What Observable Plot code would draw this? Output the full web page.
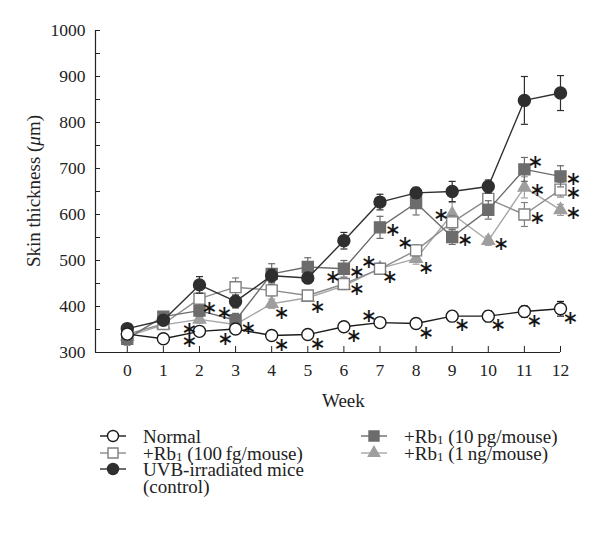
<!DOCTYPE html>
<html><head><meta charset="utf-8">
<script src="https://cdn.jsdelivr.net/npm/d3@7"></script>
<script src="https://cdn.jsdelivr.net/npm/@observablehq/plot@0.6"></script>
<style>
html,body{margin:0;padding:0;background:#fff;}
body{width:600px;height:537px;overflow:hidden;}
svg{display:block;}
</style></head>
<body>
<div id="chart"></div>
<div id="legend"></div>
<script>
// ---- data ----
const weeks = [0,1,2,3,4,5,6,7,8,9,10,11,12];
const normal    = [340,330,346,351,337,339,356,365,363,379,379,389,395];
const normalErr = [8,10,8,8,6,8,8,8,10,10,12,12,16];
const fg100     = [340,362,417,442,435,424,449,482,522,583,634,600,654];
const fg100Err  = [10,10,10,20,12,10,12,12,12,15,15,26,16];
const uvb       = [352,370,447,411,467,462,543,627,647,650,661,848,864];
const uvbErr    = [8,10,18,14,14,12,18,17,12,22,14,52,38];
const pg10      = [330,378,391,370,471,486,482,572,625,551,610,698,683];
const pg10Err   = [14,10,12,15,22,20,18,24,26,16,20,26,23];
const ng1       = [335,360,372,361,406,419,445,483,504,601,543,659,610];
const ng1Err    = [8,8,8,8,10,8,8,10,12,25,10,23,12];
const seriesKeys = ["ng1","fg100","pg10","uvb","normal"];
const yTicks = [300,400,500,600,700,800,900,1000];
const yMinor = [300,350,400,450,500,550,600,650,700,750,800,850,900,950,1000];
// significance asterisks: [series, week, label side]
const stars = [
  ["normal",2,"lb"],["normal",3,"lb"],["normal",4,"rb"],["normal",5,"rb"],["normal",6,"rb"],
  ["normal",7,"l"],["normal",8,"rb"],["normal",9,"rb"],["normal",10,"rb"],["normal",11,"rb"],["normal",12,"rb"],
  ["ng1",2,"lb"],["ng1",3,"r"],["ng1",4,"rb"],["ng1",5,"rb"],["ng1",6,"r"],["ng1",7,"rb"],["ng1",8,"rb"],
  ["ng1",10,"r"],["ng1",11,"r"],["ng1",12,"r"],
  ["fg100",2,"rb"],["fg100",6,"l"],["fg100",7,"l"],["fg100",8,"l"],["fg100",9,"l"],["fg100",11,"r"],["fg100",12,"r"],
  ["pg10",3,"l"],["pg10",6,"r"],["pg10",7,"r"],["pg10",9,"r"],["pg10",11,"ru"],["pg10",12,"r"]
];
// legend labels: [series, main text, subscript, rest]
const legendLabels = [
  ["normal","Normal","",""],
  ["fg100","+Rb","1"," (100\u2009fg/mouse)"],
  ["uvb","UVB-irradiated mice","",""],
  ["pg10","+Rb","1"," (10\u2009pg/mouse)"],
  ["ng1","+Rb","1"," (1\u2009ng/mouse)"]
];
const legendExtra = "(control)";

// ---- build tables ----
const valuesBy = {normal, fg100, uvb, pg10, ng1};
const errBy = {normal: normalErr, fg100: fg100Err, uvb: uvbErr, pg10: pg10Err, ng1: ng1Err};
const table = {};
for (const k of seriesKeys) table[k] = weeks.map((w,i)=>({series:k, week:w, value:valuesBy[k][i], err:errBy[k][i]}));
const starRows = stars.map(([s,w,side])=>({series:s, week:w, side, value:valuesBy[s][weeks.indexOf(w)]}));

const style = {
  normal:{symbol:"circle",  r:6,   fill:"#fff",    stroke:"#1c1c1c", line:"#1c1c1c"},
  fg100: {symbol:"square",  r:6.2, fill:"#fff",    stroke:"#808080", line:"#8c8c8c"},
  uvb:   {symbol:"circle",  r:6,   fill:"#2f2f2f", stroke:"#2f2f2f", line:"#2f2f2f"},
  pg10:  {symbol:"square",  r:6.2, fill:"#6c6c6c", stroke:"#6c6c6c", line:"#6c6c6c"},
  ng1:   {symbol:"triangle",r:4.6, fill:"#9e9e9e", stroke:"#9e9e9e", line:"#a6a6a6"}
};
const cap = {draw(ctx){ctx.moveTo(-3.5,0);ctx.lineTo(3.5,0);}};
const offsets = {r:[13,3], rb:[10,9], l:[-11,-7], lb:[-10,10], ru:[11,-8]};
const FONT = "Liberation Serif";

const marks = [];
for (const k of seriesKeys) {
  const s = style[k], d = table[k];
  marks.push(Plot.line(d, {x:"week", y:"value", stroke:s.line, strokeWidth:1.4}));
  marks.push(Plot.ruleX(d, {x:"week", y1:r=>r.value-r.err, y2:r=>r.value+r.err, stroke:s.stroke, strokeWidth:1.2}));
  marks.push(Plot.dot(d, {x:"week", y:r=>r.value+r.err, symbol:cap, r:3, stroke:s.stroke, fill:"none", strokeWidth:1.2}));
  marks.push(Plot.dot(d, {x:"week", y:r=>r.value-r.err, symbol:cap, r:3, stroke:s.stroke, fill:"none", strokeWidth:1.2}));
  marks.push(Plot.dot(d, {x:"week", y:"value", symbol:s.symbol, r:s.r, fill:s.fill, stroke:s.stroke, strokeWidth:1.4}));
}
for (const side of Object.keys(offsets)) {
  const [dx,dy] = offsets[side];
  marks.push(Plot.text(starRows.filter(d=>d.side===side), {x:"week", y:"value", text:()=>"∗", dx, dy,
    fontSize:19, fontFamily:"DejaVu Sans", fill:"#111", stroke:"#111", strokeWidth:0.2, lineAnchor:"middle"}));
}

const xDomain = [-0.88, 12];
const plot = Plot.plot({
  width:600, height:420,
  marginLeft:95, marginRight:40, marginTop:30, marginBottom:68,
  style:{fontFamily:FONT, background:"#fff", color:"#222"},
  x:{domain:xDomain, label:null},
  y:{domain:[300,1000], label:null},
  marks:[
    Plot.ruleY([300], {stroke:"#222", strokeWidth:1.2}),
    Plot.ruleX([xDomain[0]], {stroke:"#222", strokeWidth:1.2}),
    Plot.axisY({ticks:yTicks, tickSize:0, tickPadding:10, fontSize:17.5, tickFormat:d=>String(d), label:null, fill:"#222"}),
    Plot.axisY({ticks:yMinor, tickSize:-5, tickFormat:()=>"", label:null, stroke:"#222"}),
    Plot.axisX({ticks:weeks, tickSize:0, tickPadding:11, fontSize:17.5, tickFormat:d=>String(d), label:null, fill:"#222"}),
    Plot.axisX({ticks:weeks, tickSize:-6, tickFormat:()=>"", label:null, stroke:"#222"}),
    ...marks
  ]
});
document.getElementById("chart").appendChild(plot);

const svg = d3.select(plot);
const xs = plot.scale("x"), ys = plot.scale("y");
const yl = svg.append("text")
  .attr("transform", `translate(33,${(ys.apply(300)+ys.apply(1000))/2}) rotate(-90)`)
  .attr("text-anchor","middle").attr("dominant-baseline","central")
  .attr("font-size",19).attr("fill","#222").attr("font-family",FONT);
yl.append("tspan").text("Skin thickness (");
yl.append("tspan").attr("font-style","italic").text("μ");
yl.append("tspan").text("m)");
svg.append("text").attr("x", xs.apply(6)).attr("y", 400)
  .attr("text-anchor","middle").attr("dominant-baseline","central")
  .attr("font-size",19).attr("fill","#222").attr("font-family",FONT).text("Week");

// ---- legend (separate svg below the chart) ----
const pos = {normal:[100,16], fg100:[100,33], uvb:[100,49], pg10:[361,16], ng1:[361,33]};
const leg = d3.select("#legend").append("svg").attr("width",600).attr("height",117)
  .attr("font-family",FONT).attr("font-size",19).attr("fill","#222");
for (const [key, main, sub, rest] of legendLabels) {
  const s = style[key], [x0,y0] = pos[key];
  const g = leg.append("g").attr("transform",`translate(${x0},${y0})`);
  g.append("line").attr("x1",0).attr("x2",26).attr("y1",0).attr("y2",0).attr("stroke",s.line).attr("stroke-width",1.4);
  const sym = {circle:d3.symbolCircle, square:d3.symbolSquare, triangle:d3.symbolTriangle}[s.symbol];
  const size = s.symbol==="triangle" ? 55 : (s.symbol==="square" ? 100 : 95);
  g.append("path").attr("transform","translate(13,0)").attr("d", d3.symbol(sym, size)())
    .attr("fill",s.fill).attr("stroke",s.stroke).attr("stroke-width",1.4);
  const t = g.append("text").attr("x",43).attr("y",0).attr("dominant-baseline","central");
  t.append("tspan").text(main);
  if (sub) {
    t.append("tspan").attr("font-size",13).attr("dy",3).text(sub);
    t.append("tspan").attr("dy",-3).text(rest);
  }
  if (key==="uvb") g.append("text").attr("x",43).attr("y",17).attr("dominant-baseline","central").text(legendExtra);
}
</script>
</body></html>
